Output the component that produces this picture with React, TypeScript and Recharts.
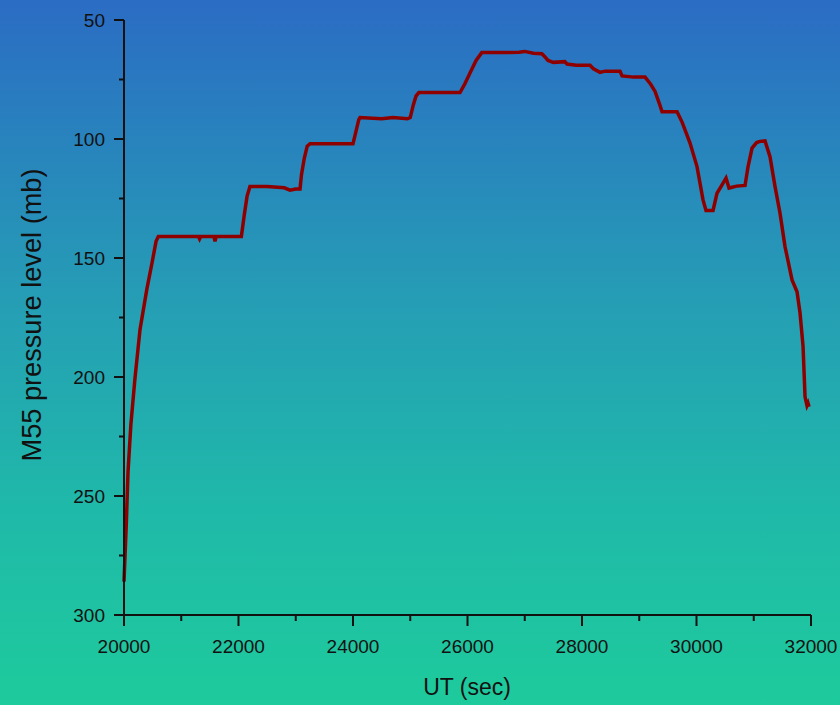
import React from 'react';
import { LineChart, Line, XAxis, YAxis, Label } from 'recharts';

// UT seconds and M55 pressure level (mb)
const utSec = [
  20000, 20040, 20070, 20120, 20190, 20280, 20400, 20490, 20560, 20600,
  21000, 21300, 21320, 21340, 21570, 21590, 21610, 22050, 22100, 22150,
  22200, 22500, 22800, 22900, 23000, 23075, 23100, 23150, 23200, 23250,
  23600, 24000, 24050, 24100, 24122, 24500, 24700, 24950, 25000, 25050,
  25100, 25150, 25500, 25869, 25950, 26050, 26150, 26250, 26600, 26900,
  27000, 27150, 27300, 27354, 27406, 27500, 27700, 27738, 27900, 28140,
  28200, 28315, 28400, 28664, 28700, 28900, 29101, 29200, 29276, 29350,
  29398, 29500, 29660, 29750, 29887, 30009, 30114, 30166, 30289, 30358,
  30446, 30516, 30568, 30700, 30848, 30900, 30970, 31050, 31110, 31197,
  31284, 31372, 31459, 31546, 31669, 31756, 31808, 31861, 31896, 31930,
  31948, 31966,
];
const pressure = [
  286, 262, 240, 220, 201, 180, 163, 152, 143, 141,
  141, 141, 142, 141, 141, 143, 141, 141, 132, 124,
  120, 120, 120.5, 121.5, 121, 121, 115, 108, 103, 102,
  102, 102, 97, 92, 91, 91.5, 91, 91.5, 91, 86,
  82, 80.5, 80.5, 80.5, 77, 72, 67, 63.7, 63.7, 63.5,
  63.2, 64, 64.2, 65.5, 67, 67.8, 67.5, 68.5, 69, 69,
  70.5, 72, 71.5, 71.5, 73.5, 74, 74, 77, 80, 85,
  88.5, 88.5, 88.5, 93, 101.7, 111.6, 125.6, 130, 130, 122.8,
  119.3, 116.4, 120.6, 119.8, 119.5, 111.7, 103.8, 101.5, 101, 100.8,
  107.4, 120, 131.2, 145.2, 159.2, 164.2, 173, 187, 208.3, 212,
  211, 212.5,
];
const xTicks = [20000, 21000, 22000, 23000, 24000, 25000, 26000, 27000, 28000, 29000, 30000, 31000, 32000];
const yTicks = [50, 75, 100, 125, 150, 175, 200, 225, 250, 275, 300];

const data = utSec.map((t, i) => ({ t, p: pressure[i] }));

const FONT = '"Liberation Sans", Arial, sans-serif';
const INK = '#111';

const YTick = (props: any) => {
  const { x, y, payload } = props;
  const major = payload.value % 50 === 0;
  return (
    <g>
      <line x1={x - (major ? 10 : 5)} x2={x} y1={y} y2={y} stroke={INK} strokeWidth={2} />
      {major && (
        <text x={x - 19} y={y} dy={7} textAnchor="end" fontSize={19} fontFamily={FONT} fill={INK}>
          {payload.value}
        </text>
      )}
    </g>
  );
};

const XTick = (props: any) => {
  const { x, y, payload } = props;
  const major = payload.value % 2000 === 0;
  return (
    <g>
      <line x1={x} x2={x} y1={y} y2={y + (major ? 11 : 6)} stroke={INK} strokeWidth={2} />
      {major && (
        <text x={x} y={y + 38} textAnchor="middle" fontSize={19} fontFamily={FONT} fill={INK}>
          {payload.value}
        </text>
      )}
    </g>
  );
};

export default function App() {
  return (
    <div
      style={{
        position: 'absolute',
        left: 0,
        top: 0,
        width: 840,
        height: 705,
        background: 'linear-gradient(to bottom, #2b6cc4 0%, #25a0b4 45%, #1fb9a9 72%, #1ecb9c 100%)',
      }}
    >
      <LineChart width={840} height={705} data={data} margin={{ top: 20, right: 29, bottom: 0, left: 0 }}>
        <XAxis
          dataKey="t"
          type="number"
          domain={[20000, 32000]}
          ticks={xTicks}
          interval={0}
          height={90}
          tickSize={0}
          tickMargin={0}
          tickLine={false}
          axisLine={{ stroke: INK, strokeWidth: 2 }}
          tick={<XTick />}
        >
          <Label
            content={() => (
              <text x={467} y={695} textAnchor="middle" fontSize={23} fontFamily={FONT} fill={INK}>
                UT (sec)
              </text>
            )}
          />
        </XAxis>
        <YAxis
          type="number"
          domain={[50, 300]}
          reversed
          ticks={yTicks}
          interval={0}
          width={124}
          tickSize={0}
          tickMargin={0}
          tickLine={false}
          axisLine={{ stroke: INK, strokeWidth: 2 }}
          tick={<YTick />}
        >
          <Label
            content={() => (
              <text
                x={41}
                y={315}
                transform="rotate(-90 41 315)"
                textAnchor="middle"
                fontSize={28}
                fontFamily={FONT}
                fill={INK}
                textLength={293}
                lengthAdjust="spacingAndGlyphs"
              >
                M55 pressure level (mb)
              </text>
            )}
          />
        </YAxis>
        <Line
          type="linear"
          dataKey="p"
          stroke="#8e0000"
          strokeWidth={3.5}
          dot={false}
          isAnimationActive={false}
        />
      </LineChart>
    </div>
  );
}
